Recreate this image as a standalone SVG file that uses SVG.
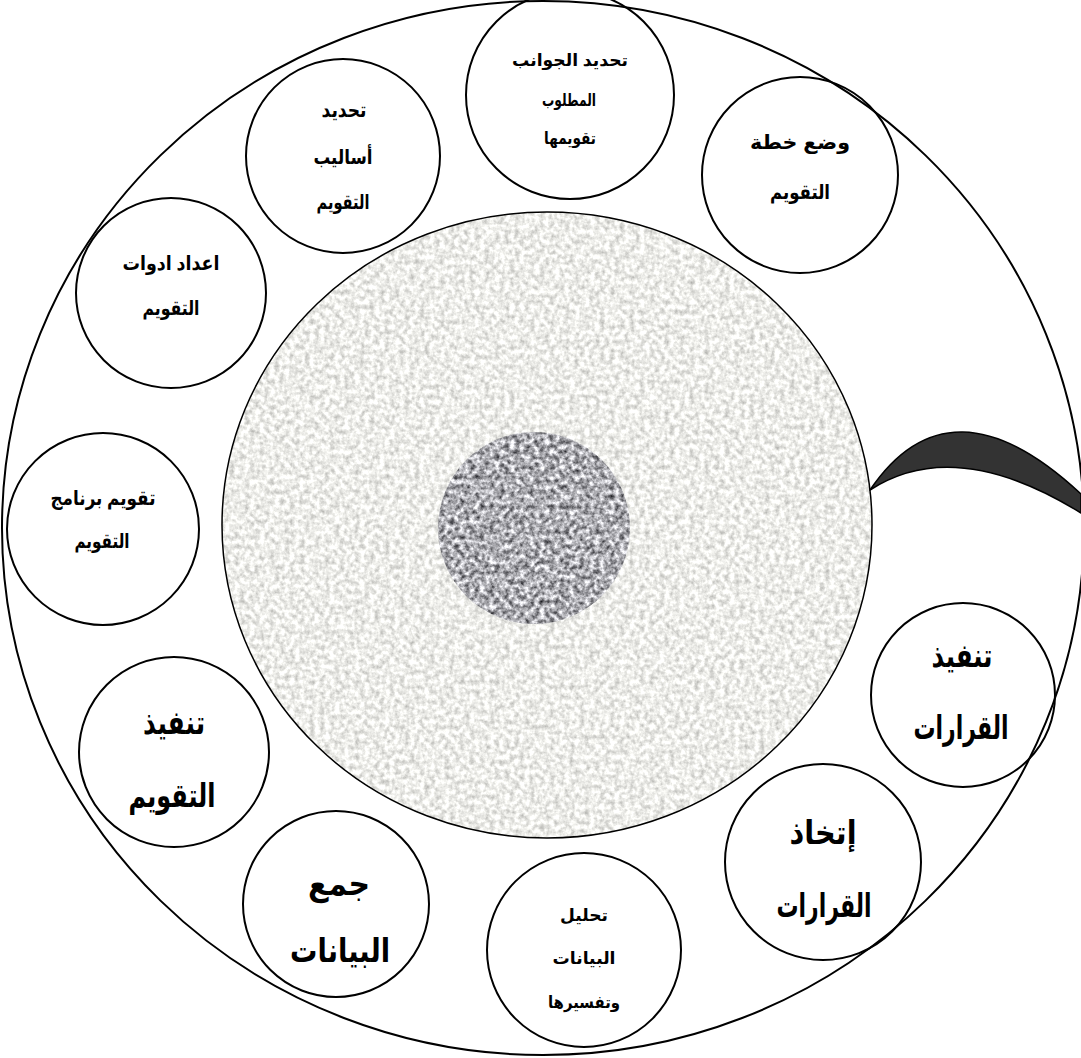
<svg xmlns="http://www.w3.org/2000/svg" width="1081" height="1058" viewBox="0 0 1081 1058">
  <style>
    .node circle { fill: #ffffff; stroke: #000000; stroke-width: 2; }
    .t { font-family: "Liberation Sans", "DejaVu Sans", sans-serif; font-weight: bold; fill: #000000; text-anchor: middle; direction: rtl; }
    .s { font-size: 17px; }
    .m { font-size: 20px; }
    .l { font-size: 33px; }
  </style>
  <defs>
    <filter id="lightTex" x="0" y="0" width="100%" height="100%" color-interpolation-filters="sRGB">
      <feTurbulence type="fractalNoise" baseFrequency="0.2" numOctaves="3" seed="3" result="n"/>
      <feColorMatrix in="n" type="matrix" values="0.5 0 0 0 0.68  0.5 0 0 0 0.68  0.5 0 0 0 0.665  0 0 0 0 1" result="g"/>
      <feComposite in="g" in2="SourceGraphic" operator="in"/>
    </filter>
    <filter id="darkTex" x="0" y="0" width="100%" height="100%" color-interpolation-filters="sRGB">
      <feTurbulence type="fractalNoise" baseFrequency="0.2" numOctaves="3" seed="7" result="n"/>
      <feColorMatrix in="n" type="matrix" values="1.3 0 0 0 0.03  1.3 0 0 0 0.03  1.3 0 0 0 0.05  0 0 0 0 1" result="g"/>
      <feComposite in="g" in2="SourceGraphic" operator="in"/>
    </filter>
  </defs>
  <rect width="1081" height="1058" fill="#ffffff"/>

  <g id="center-disc">
    <ellipse cx="547" cy="525" rx="325" ry="313" fill="#e6e6e2" filter="url(#lightTex)"/>
    <ellipse cx="547" cy="525" rx="325" ry="313" fill="none" stroke="#000000" stroke-width="1.5"/>
    <circle cx="534" cy="528" r="96" fill="#a0a0a6" filter="url(#darkTex)"/>
  </g>

  <g id="connectors">
    <path d="M 870 490 Q 950 372 1081 494 L 1081 513 Q 955 435 870 490 Z" fill="#333333" stroke="#000000" stroke-width="1.5" stroke-linejoin="round"/>
  </g>

  <g id="n1" class="node">
    <circle cx="800" cy="175" r="98"/>
    <text class="t m" x="800" y="149" textLength="100" lengthAdjust="spacingAndGlyphs">وضع خطة</text>
    <text class="t m" x="800" y="199" textLength="60" lengthAdjust="spacingAndGlyphs">التقويم</text>
  </g>
  <g id="n2" class="node">
    <circle cx="570" cy="95" r="104"/>
    <text class="t s" x="570" y="66" textLength="116" lengthAdjust="spacingAndGlyphs">تحديد الجوانب</text>
    <text class="t s" x="569" y="106" textLength="54" lengthAdjust="spacingAndGlyphs">المطلوب</text>
    <text class="t s" x="570" y="144" textLength="52" lengthAdjust="spacingAndGlyphs">تقويمها</text>
  </g>
  <g id="n3" class="node">
    <circle cx="343" cy="156" r="97"/>
    <text class="t m" x="344" y="117" textLength="45" lengthAdjust="spacingAndGlyphs">تحديد</text>
    <text class="t m" x="343" y="164" textLength="59" lengthAdjust="spacingAndGlyphs">أساليب</text>
    <text class="t m" x="343" y="209" textLength="53" lengthAdjust="spacingAndGlyphs">التقويم</text>
  </g>
  <g id="n4" class="node">
    <circle cx="171" cy="293" r="95"/>
    <text class="t m" x="171" y="270" textLength="97" lengthAdjust="spacingAndGlyphs">اعداد ادوات</text>
    <text class="t m" x="171" y="315" textLength="57" lengthAdjust="spacingAndGlyphs">التقويم</text>
  </g>
  <g id="n5" class="node">
    <circle cx="103" cy="529" r="96"/>
    <text class="t m" x="103" y="505" textLength="105" lengthAdjust="spacingAndGlyphs">تقويم برنامج</text>
    <text class="t m" x="102" y="548" textLength="55" lengthAdjust="spacingAndGlyphs">التقويم</text>
  </g>
  <g id="n6" class="node">
    <circle cx="174" cy="752" r="95"/>
    <text class="t l" x="174" y="734" textLength="62" lengthAdjust="spacingAndGlyphs">تنفيذ</text>
    <text class="t l" x="172" y="807" textLength="87" lengthAdjust="spacingAndGlyphs">التقويم</text>
  </g>
  <g id="n7" class="node">
    <circle cx="336" cy="904" r="93"/>
    <text class="t l" x="339" y="895" textLength="62" lengthAdjust="spacingAndGlyphs">جمع</text>
    <text class="t l" x="340" y="962" textLength="100" lengthAdjust="spacingAndGlyphs">البيانات</text>
  </g>
  <g id="n8" class="node">
    <circle cx="584" cy="950" r="97"/>
    <text class="t s" x="584" y="921" textLength="48" lengthAdjust="spacingAndGlyphs">تحليل</text>
    <text class="t s" x="584" y="964" textLength="63" lengthAdjust="spacingAndGlyphs">البيانات</text>
    <text class="t s" x="584" y="1008" textLength="72" lengthAdjust="spacingAndGlyphs">وتفسيرها</text>
  </g>
  <g id="n9" class="node">
    <circle cx="823" cy="862" r="98"/>
    <text class="t l" x="823" y="844" textLength="67" lengthAdjust="spacingAndGlyphs">إتخاذ</text>
    <text class="t l" x="824" y="917" textLength="95" lengthAdjust="spacingAndGlyphs">القرارات</text>
  </g>
  <g id="n10" class="node">
    <circle cx="963" cy="695" r="92"/>
    <text class="t l" x="962" y="667" textLength="61" lengthAdjust="spacingAndGlyphs">تنفيذ</text>
    <text class="t l" x="961" y="739" textLength="95" lengthAdjust="spacingAndGlyphs">القرارات</text>
  </g>

  <g id="outer-ring">
    <ellipse cx="543" cy="528" rx="541" ry="527" fill="none" stroke="#000000" stroke-width="2"/>
  </g>
</svg>
